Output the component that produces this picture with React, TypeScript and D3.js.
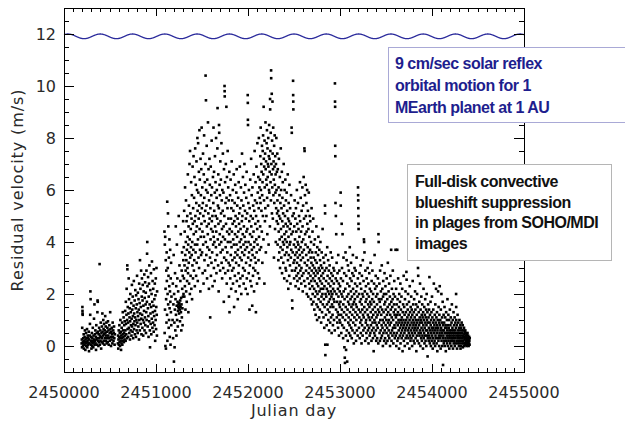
import React from "react";
import * as d3 from "d3";

const JD0 = 2450000;
const xTicks = [2450000, 2451000, 2452000, 2453000, 2454000, 2455000];
const yTicks = [0, 2, 4, 6, 8, 10, 12];
const xLabel = "Julian day";
const yLabel = "Residual velocity (m/s)";
const note1 = ["9 cm/sec solar reflex", "orbital motion for 1", "MEarth planet at 1 AU"];
const note2 = ["Full-disk convective", "blueshift suppression", "in plages from SOHO/MDI", "images"];

// reflex orbital motion: 9 cm/s amplitude around the 11.9 m/s level
const waveCenter = 11.91;
const waveAmp = 0.09;
const wavePeriod = 351;
const wavePhase = 43;

// [day - 2450000, residual velocity m/s]
const obsA: number[][] = [[192,0.1],[194,0.25],[196,-0.05],[198,0.7],[200,1.5],[201,1.35],[202,1.25],[203,1.2],[205,0.15],[207,0.0],[209,0.3],[211,0.1],[214,0.45],[216,-0.1],[219,0.2],[222,0.05],[224,0.35],[227,0.6],[229,0.15],[232,-0.15],[234,0.25],[237,0.1],[240,0.5],[242,0.0],[245,0.3],[248,0.15],[250,0.65],[253,-0.05],[256,0.2],[258,0.4],[261,0.05],[264,0.3],[266,0.1],[269,0.55],[272,-0.2],[274,0.25],[277,0.1],[280,0.4],[282,0.85],[285,1.2],[287,2.1],[289,1.8],[291,0.2],[293,0.05],[296,0.35],[298,-0.1],[301,0.15],[303,0.5],[306,0.0],[308,0.3],[311,0.1],[313,0.7],[316,0.2],[318,-0.05],[321,0.4],[323,0.15],[326,1.05],[328,0.25],[331,1.6],[333,0.05],[336,0.45],[338,0.2],[341,0.6],[343,0.1],[346,0.35],[348,-0.15],[351,0.8],[353,0.25],[356,0.5],[358,0.05],[361,0.3],[363,1.3],[365,1.75],[367,1.7],[369,0.55],[372,0.2],[374,0.0],[377,0.45],[379,0.15],[382,0.7],[384,0.3],[387,3.15],[389,0.05],[392,0.4],[394,0.6],[397,0.2],[399,0.9],[402,0.35],[404,-0.1],[407,0.5],[409,0.15],[412,0.75],[414,0.3],[417,1.25],[419,0.55],[422,0.1],[425,0.4],[427,1.0],[430,0.65],[432,0.2],[435,0.85],[437,0.45],[440,0.05],[443,0.6],[445,0.3],[448,1.15],[450,0.5],[453,0.75],[456,0.2],[458,0.4],[461,0.9],[464,0.1],[466,0.55],[469,0.3],[472,0.7],[475,0.15],[478,0.95],[481,0.4],[484,0.6],[487,0.05],[490,0.3],[493,0.8],[496,0.5],[499,0.2],[502,1.3],[505,0.65],[508,0.35],[511,0.0],[514,0.55],[517,0.25],[520,0.7],[523,0.45],[526,0.1],[529,0.9],[532,0.35],[535,0.6],[538,0.2],[541,0.5],[544,0.75],[547,0.3],[550,0.05],[553,0.45]];

const obsB: number[][] = [[586,0.1],[588,0.4],[590,-0.1],[592,0.25],[595,0.6],[597,0.05],[599,0.35],[602,0.8],[604,0.15],[606,0.5],[609,0.0],[611,0.3],[613,1.0],[616,0.2],[618,0.55],[620,-0.15],[623,0.4],[625,0.1],[627,0.7],[630,0.3],[632,0.9],[634,0.05],[637,0.45],[639,1.3],[641,0.2],[644,0.6],[646,0.35],[648,1.1],[651,0.15],[653,0.5],[655,0.8],[658,0.25],[660,0.95],[663,0.4],[665,1.35],[667,0.6],[670,0.2],[672,1.7],[674,0.85],[677,0.45],[679,1.2],[681,2.2],[684,0.3],[686,1.0],[688,3.1],[689,2.95],[691,0.65],[693,1.5],[696,0.9],[698,0.35],[700,1.25],[703,2.6],[705,0.7],[707,1.8],[710,0.5],[712,1.1],[714,1.45],[717,0.25],[719,0.95],[721,2.0],[724,0.6],[726,1.3],[728,0.8],[731,1.65],[733,0.4],[735,1.05],[738,2.35],[740,0.75],[742,1.4],[745,0.55],[747,1.9],[749,1.15],[752,0.3],[754,0.85],[756,1.55],[759,2.5],[761,0.65],[763,1.25],[766,0.95],[768,1.75],[770,0.45],[773,1.1],[775,2.15],[777,0.8],[780,1.45],[782,0.35],[784,1.95],[787,1.0],[789,0.6],[791,1.6],[794,2.7],[796,0.9],[798,1.3],[801,0.5],[803,2.05],[805,1.15],[808,0.75],[810,1.8],[812,1.4],[815,0.25],[817,2.4],[819,1.0],[822,1.65],[824,0.6],[826,3.3],[828,1.25],[831,2.2],[833,0.85],[835,1.5],[838,2.9],[840,1.05],[842,0.45],[845,1.9],[847,2.6],[849,1.2],[852,0.7],[854,1.75],[856,2.35],[859,1.0],[861,0.4],[863,1.55],[866,2.1],[868,0.9],[870,1.35],[873,2.75],[875,0.6],[877,1.85],[880,1.1],[882,2.45],[884,0.8],[887,1.6],[889,2.05],[891,0.5],[894,1.3],[896,2.9],[898,1.0],[901,1.7],[903,3.55],[905,4.0],[907,2.3],[910,0.75],[912,1.45],[914,2.65],[917,1.15],[919,0.35],[921,1.9],[924,2.4],[926,0.95],[928,3.1],[931,1.6],[933,0.6],[935,-0.05],[938,2.15],[940,1.25],[942,0.85],[945,2.8],[947,1.5],[949,0.45],[952,2.0],[954,1.05],[956,3.25],[959,1.7],[961,0.7],[963,2.5],[966,1.3],[968,0.9],[970,2.2],[973,1.55],[975,0.55],[977,2.95],[980,1.15],[982,1.8],[984,0.8],[987,2.4],[989,1.35],[991,0.2],[994,1.95],[996,1.0],[998,2.6],[1001,0.65],[1003,1.5],[1005,3.0],[1008,1.2],[1010,0.4],[1012,2.1]];

const obsC: number[][] = [[1092,4.4],[1094,0.5],[1096,3.9],[1098,1.4],[1100,4.2],[1102,0.0],[1104,2.2],[1106,3.3],[1108,-0.1],[1110,1.8],[1112,2.9],[1114,0.9],[1116,3.6],[1118,2.5],[1120,1.2],[1122,5.55],[1124,0.2],[1126,2.0],[1128,3.0],[1130,5.1],[1132,1.6],[1134,4.6],[1136,2.7],[1138,0.7],[1140,3.4],[1142,1.0],[1144,2.3],[1146,4.1],[1148,1.45],[1150,0.35],[1152,2.1],[1154,3.7],[1156,1.7],[1158,0.05],[1160,2.6],[1162,1.3],[1164,3.2],[1166,0.8],[1168,1.9],[1180,1.0],[1183,2.4],[1186,0.3],[1189,1.6],[1192,3.5],[1195,-0.6],[1197,2.0],[1200,0.9],[1202,-0.05],[1205,1.4],[1207,2.8],[1210,0.6],[1212,1.8],[1215,4.6],[1217,1.2],[1220,2.3],[1222,0.4],[1225,1.55],[1227,3.9],[1230,1.0],[1232,2.6],[1234,1.7],[1237,0.75],[1239,1.35],[1241,2.1],[1243,1.5],[1245,1.6],[1247,5.0],[1249,1.45],[1251,1.25],[1253,1.65],[1255,3.1],[1257,1.55],[1259,1.4],[1261,0.95],[1263,1.75],[1265,2.5],[1267,1.5],[1269,4.3],[1271,1.3],[1273,1.85],[1275,0.6],[1277,1.6],[1279,2.9],[1281,1.1],[1283,3.6],[1285,2.2],[1287,1.45],[1289,0.8],[1291,2.7],[1293,1.9],[1295,4.8],[1297,3.3],[1299,2.0]];

const obsD: number[][] = [[1302,3.8],[1304,2.6],[1306,5.2],[1308,1.9],[1310,3.1],[1312,4.4],[1314,2.3],[1316,6.1],[1318,3.5],[1320,1.4],[1322,2.9],[1324,4.0],[1326,5.6],[1328,2.1],[1330,3.3],[1332,4.8],[1334,1.7],[1336,3.7],[1338,2.5],[1340,5.0],[1342,3.0],[1344,4.2],[1346,6.6],[1348,2.8],[1350,3.9],[1352,1.3],[1354,4.6],[1356,3.2],[1358,5.4],[1360,2.4],[1362,3.6],[1364,7.0],[1366,4.1],[1368,2.0],[1370,7.5],[1372,3.4],[1374,5.1],[1376,2.7],[1378,4.5],[1380,3.8],[1382,6.3],[1384,2.2],[1386,4.9],[1388,3.5],[1390,5.8],[1392,1.8],[1394,4.0],[1396,3.1],[1398,6.9],[1400,4.7],[1402,2.6],[1404,5.3],[1406,3.7],[1408,7.3],[1410,4.3],[1412,2.9],[1414,5.7],[1416,3.3],[1418,6.5],[1420,4.8],[1422,2.3],[1424,3.9],[1426,7.6],[1428,5.0],[1430,3.6],[1432,6.2],[1434,4.4],[1436,2.7],[1438,5.5],[1440,7.1],[1442,3.2],[1444,4.6],[1446,6.0],[1448,3.9],[1450,8.0],[1452,5.2],[1454,2.5],[1456,4.1],[1458,7.8],[1460,5.9],[1462,3.4],[1464,4.9],[1466,6.7],[1468,3.0],[1470,5.4],[1472,8.3],[1474,4.5],[1476,6.4],[1478,3.7],[1480,5.1],[1482,2.1],[1484,7.2],[1486,4.2],[1488,5.8],[1490,3.5],[1492,6.8],[1494,4.7],[1496,8.4],[1498,5.3],[1501,3.6],[1503,6.1],[1505,4.4],[1507,2.8],[1509,5.5],[1511,7.4],[1513,3.9],[1515,5.0],[1517,2.4],[1519,6.6],[1521,4.2],[1523,8.1],[1525,5.7],[1527,3.3],[1529,4.8],[1531,6.3],[1533,2.9],[1535,5.2],[1537,7.0],[1539,10.4],[1541,4.0],[1543,9.45],[1545,6.0],[1547,3.5],[1549,5.4],[1551,7.7],[1553,4.6],[1555,2.6],[1557,6.4],[1559,3.8],[1561,5.9],[1563,4.3],[1565,8.6],[1567,3.1],[1569,5.1],[1571,6.8],[1573,4.7],[1575,2.2],[1577,5.6],[1579,3.7],[1581,7.2],[1583,4.9],[1585,6.2],[1587,3.4],[1589,1.1],[1591,5.3],[1593,4.1],[1595,6.9],[1597,2.7],[1599,4.5],[1601,5.8],[1603,3.2],[1605,7.9],[1607,4.8],[1609,6.1],[1611,3.6],[1613,5.0],[1615,2.3],[1617,4.4],[1619,6.5],[1621,3.9],[1623,5.5],[1625,8.4],[1627,4.2],[1629,3.0],[1631,6.7],[1633,5.2],[1635,4.0],[1637,2.5],[1639,5.9],[1641,7.3],[1643,4.6],[1645,3.3],[1647,6.3],[1649,5.0],[1651,3.8],[1653,8.0],[1655,4.4],[1657,2.8],[1659,5.7],[1661,6.0],[1663,3.5],[1665,4.9],[1667,7.6],[1669,9.15],[1671,4.1],[1673,5.4],[1675,3.1],[1677,6.6],[1679,4.7],[1681,2.1],[1683,5.3],[1685,8.5],[1687,8.2],[1689,3.9],[1691,6.2],[1693,4.3],[1695,5.8],[1697,2.9],[1699,7.1],[1701,4.8],[1703,3.6],[1705,6.4],[1707,5.1],[1709,4.0],[1711,7.8],[1713,3.2],[1715,5.6],[1717,4.5],[1719,2.6],[1721,6.0],[1723,3.7],[1725,5.2],[1727,7.4],[1729,4.2],[1731,3.0],[1733,5.9],[1735,4.6],[1737,1.7],[1739,6.8],[1741,3.4],[1743,5.0],[1745,10.0],[1746,9.8],[1747,9.6],[1749,4.1],[1751,6.3],[1753,2.8],[1755,5.5],[1757,3.8],[1759,7.0],[1761,4.7],[1763,3.3],[1765,9.2],[1767,5.7],[1769,2.4],[1771,6.5],[1773,4.4],[1775,3.6],[1777,5.3],[1779,7.5],[1781,4.0],[1783,2.9],[1785,6.1],[1787,4.9],[1789,3.2],[1791,5.6],[1793,1.9],[1795,4.3],[1797,6.7],[1799,1.3]];

const obsE: number[][] = [[1801,4.5],[1803,3.1],[1805,5.8],[1807,2.6],[1809,4.0],[1811,6.4],[1813,3.5],[1815,4.9],[1817,2.2],[1819,5.3],[1821,3.8],[1823,7.1],[1825,4.4],[1827,2.9],[1829,5.6],[1831,3.3],[1833,4.7],[1835,6.0],[1837,2.4],[1839,4.1],[1841,5.2],[1843,3.0],[1845,6.6],[1847,3.9],[1849,1.5],[1851,4.8],[1853,3.4],[1855,5.5],[1857,2.7],[1859,4.3],[1861,6.2],[1863,3.6],[1865,5.0],[1867,2.1],[1869,4.6],[1871,3.2],[1873,5.9],[1875,3.9],[1877,6.8],[1879,2.5],[1881,4.2],[1883,5.4],[1885,3.5],[1887,4.9],[1889,1.8],[1891,3.7],[1893,5.7],[1895,4.4],[1897,2.8],[1899,6.3],[1901,3.1],[1903,4.7],[1905,5.1],[1907,2.3],[1909,4.0],[1911,6.9],[1913,3.4],[1915,5.3],[1917,2.6],[1919,4.5],[1921,3.8],[1923,6.1],[1925,4.1],[1927,2.0],[1929,5.6],[1931,3.3],[1933,4.8],[1935,7.4],[1937,3.6],[1939,5.0],[1941,2.7],[1943,4.3],[1945,6.5],[1947,3.0],[1949,5.4],[1951,3.9],[1953,2.4],[1955,4.6],[1957,5.9],[1959,3.5],[1961,7.0],[1963,4.2],[1965,2.9],[1967,5.2],[1969,3.7],[1971,6.2],[1973,4.0],[1975,2.2],[1977,4.9],[1979,3.2],[1981,5.7],[1983,4.4],[1985,6.7],[1987,2.6],[1989,3.8],[1991,5.1],[1993,4.5],[1995,2.0],[1997,9.65],[1998,9.35],[1999,8.7],[2000,8.5],[2002,3.4],[2004,5.5],[2006,4.0],[2008,2.8],[2010,6.0],[2012,3.6],[2014,4.8],[2016,1.4],[2018,5.3],[2020,3.1],[2022,4.3],[2024,6.4],[2026,2.5],[2028,3.9],[2030,5.0],[2032,3.3],[2034,7.2],[2036,4.6],[2038,2.3],[2040,5.8],[2042,3.7],[2044,4.2],[2046,1.55],[2048,6.1],[2050,3.5],[2052,4.9],[2054,2.7],[2056,5.4],[2058,3.0],[2060,4.4],[2062,6.6],[2064,3.8],[2066,2.1],[2068,5.2],[2070,4.0],[2072,7.5],[2074,3.4],[2076,5.6],[2078,2.9],[2080,4.7],[2082,6.3],[2084,3.2],[2086,1.3],[2088,5.0],[2090,4.1],[2092,6.9],[2094,3.6],[2096,5.5],[2098,2.4],[2100,4.5],[2102,7.8],[2104,3.9],[2106,5.9],[2108,2.8],[2110,4.8],[2112,6.5],[2114,3.3],[2116,5.3],[2118,8.0],[2120,4.2],[2122,2.6],[2124,6.1],[2126,3.7],[2128,5.7],[2130,6.4],[2132,4.6],[2134,7.3],[2136,5.5],[2138,8.4],[2140,6.0],[2142,3.8],[2144,7.0],[2146,5.2],[2148,6.7],[2150,4.4],[2152,7.7],[2154,5.8],[2156,3.2],[2158,6.3],[2160,7.5],[2162,5.0],[2164,8.1],[2166,6.6],[2168,4.1],[2170,9.2],[2172,7.2],[2174,5.6],[2176,6.9],[2178,2.4],[2180,7.9],[2182,6.1],[2184,4.8],[2186,7.4],[2188,5.3],[2190,8.6],[2192,6.8],[2194,3.6],[2196,7.1],[2198,6.4],[2200,5.0],[2202,7.8],[2204,6.2],[2206,8.3],[2208,5.7],[2210,4.3],[2212,7.6],[2214,6.5],[2216,7.0],[2218,5.4],[2220,8.0],[2222,6.9],[2224,3.9],[2226,7.3],[2228,6.0],[2230,8.5],[2232,5.9],[2234,7.2],[2236,6.7],[2238,4.6],[2240,9.5],[2241,9.1],[2243,7.5],[2245,6.3],[2247,8.2],[2249,5.6],[2251,10.6],[2252,10.3],[2254,7.0],[2256,6.6],[2258,9.7],[2260,5.1],[2262,7.9],[2264,6.1],[2266,9.4],[2268,7.4],[2270,4.9],[2272,6.8],[2274,8.4],[2276,5.8],[2278,7.1],[2280,6.4],[2282,3.4],[2284,7.7],[2286,5.5],[2288,6.9],[2290,8.1],[2292,6.2],[2294,4.5],[2296,7.3],[2298,5.9],[2300,6.6],[2302,4.0],[2304,7.0],[2306,5.3],[2308,8.0],[2310,6.0],[2312,4.8],[2314,6.7],[2316,5.1],[2318,7.4]];

const obsF: number[][] = [[2320,5.6],[2322,3.9],[2324,6.8],[2326,4.7],[2328,5.2],[2330,3.3],[2332,6.1],[2334,4.4],[2336,7.2],[2338,5.0],[2340,3.6],[2342,5.8],[2344,4.1],[2346,6.5],[2348,3.0],[2350,4.9],[2352,5.5],[2354,3.8],[2356,7.6],[2358,4.5],[2360,6.0],[2362,3.4],[2364,5.3],[2366,4.2],[2368,6.7],[2370,2.8],[2372,4.8],[2374,5.7],[2376,3.7],[2378,6.3],[2380,4.0],[2382,5.1],[2384,3.2],[2386,4.6],[2388,7.0],[2390,3.9],[2392,5.4],[2394,2.6],[2396,4.3],[2398,6.0],[2400,3.5],[2402,5.0],[2404,4.1],[2406,6.4],[2408,3.0],[2410,4.7],[2412,5.6],[2414,2.9],[2416,4.4],[2418,3.6],[2420,5.9],[2422,4.0],[2424,2.5],[2426,5.2],[2428,3.8],[2430,4.6],[2432,6.6],[2434,3.3],[2436,4.9],[2438,2.2],[2440,4.2],[2442,5.5],[2444,3.5],[2446,4.8],[2448,2.7],[2450,6.2],[2452,3.9],[2454,4.5],[2456,3.1],[2458,5.3],[2460,4.0],[2462,2.4],[2464,4.7],[2466,3.4],[2468,5.8],[2470,3.7],[2472,4.3],[2474,8.4],[2476,8.2],[2478,2.9],[2480,1.75],[2482,1.45],[2484,5.0],[2486,3.6],[2488,4.4],[2490,10.2],[2491,9.65],[2492,9.4],[2493,9.1],[2495,3.2],[2497,5.1],[2499,3.9],[2501,2.6],[2503,4.6],[2505,3.3],[2507,5.6],[2509,2.9],[2511,4.1],[2513,3.5],[2515,4.9],[2517,2.3],[2519,3.8],[2521,5.3],[2523,3.0],[2525,4.4],[2527,2.7],[2529,3.6],[2531,6.0],[2533,3.2],[2535,4.7],[2537,2.5],[2539,4.0],[2541,3.4],[2543,5.5],[2545,2.8],[2547,3.9],[2549,4.5],[2551,2.2],[2553,3.7],[2555,5.0],[2557,3.1],[2559,4.2],[2561,2.6],[2563,3.5],[2565,6.3],[2567,4.8],[2569,2.9],[2571,3.8],[2573,5.7],[2575,3.3],[2577,4.4],[2579,2.4],[2581,3.0],[2583,5.2],[2585,4.0],[2587,2.7],[2589,3.6],[2591,6.1],[2593,4.6],[2595,2.1],[2597,3.4],[2599,5.4],[2601,4.1],[2603,2.8],[2605,6.5],[2607,3.7],[2609,4.9],[2611,2.5],[2613,7.6],[2615,7.5],[2617,3.2],[2619,5.8],[2621,4.3],[2623,2.3],[2625,3.9],[2627,6.2],[2629,5.0],[2631,2.9],[2633,3.5],[2635,5.5],[2637,4.4],[2639,2.0],[2641,3.1],[2643,6.0],[2645,4.7],[2647,2.6],[2649,3.8],[2651,5.2],[2653,3.3],[2655,1.9],[2657,4.5],[2659,2.8],[2661,5.9],[2663,3.6],[2665,2.4],[2667,4.2],[2669,3.0],[2671,5.0],[2673,2.2],[2675,3.7],[2677,4.8],[2679,2.7],[2681,3.4],[2683,1.8],[2685,4.0],[2687,2.5],[2689,3.2],[2691,5.3],[2693,2.9],[2695,1.6],[2697,3.6],[2699,2.3],[2701,4.4],[2703,2.0],[2705,3.1],[2707,2.6],[2709,4.9],[2711,1.7],[2713,3.4],[2715,2.8],[2717,3.9],[2719,2.2],[2721,1.4],[2723,3.0],[2725,2.5],[2727,4.1],[2729,1.9],[2731,3.3],[2733,2.7],[2735,1.2],[2737,3.6],[2739,2.1],[2741,2.9],[2743,4.6],[2745,1.6],[2747,3.2],[2749,2.4],[2751,1.0],[2753,3.8],[2755,2.0],[2757,2.8],[2759,1.5],[2761,3.5],[2763,2.3],[2765,4.2],[2767,1.8],[2769,3.0],[2771,2.6],[2773,1.1],[2775,3.7],[2777,2.1],[2779,2.9],[2781,1.4],[2783,3.3],[2785,2.5],[2787,4.0],[2789,1.7],[2791,2.2],[2793,3.1],[2795,0.9],[2797,2.7],[2799,1.9],[2801,3.6],[2803,2.4],[2805,1.3],[2807,3.0],[2809,2.0],[2811,4.5],[2813,1.6],[2815,2.8],[2817,2.2],[2819,3.4],[2821,1.1],[2823,2.6],[2825,1.8],[2827,3.2],[2829,0.7],[2831,2.3],[2833,1.5],[2835,2.9],[2837,5.4],[2838,5.1],[2840,0.05],[2841,-0.35],[2843,2.0],[2845,3.5],[2847,1.2],[2849,2.5],[2851,1.9],[2853,3.0],[2855,0.8],[2857,2.2],[2859,1.6],[2861,3.8],[2863,0.05],[2865,2.7],[2867,1.4],[2869,2.1],[2871,3.3],[2873,1.0],[2875,2.4],[2877,1.7],[2879,2.9],[2881,0.6],[2883,2.0],[2885,1.3],[2887,3.1],[2889,2.6],[2891,1.8],[2893,0.9],[2895,2.3],[2897,1.5],[2899,3.6],[2901,2.1],[2903,1.1],[2905,2.8],[2907,1.9],[2909,0.5],[2911,2.5],[2913,1.6],[2915,3.4],[2917,2.0],[2919,1.2],[2921,2.7],[2923,0.8],[2925,2.2],[2927,1.5],[2929,3.0],[2931,1.8],[2933,2.4],[2935,1.0],[2937,2.9],[2939,1.7],[2941,2.1],[2943,0.6],[2945,10.1],[2946,9.4],[2947,9.2],[2948,7.7],[2949,7.3],[2951,5.5],[2953,2.6],[2955,5.0],[2957,1.4],[2959,4.3],[2961,2.0],[2963,3.2],[2965,1.1],[2967,2.5],[2969,1.7],[2971,0.9],[2973,2.8],[2975,1.3],[2977,2.2],[2979,0.7],[2981,3.5],[2983,1.9],[2985,1.2],[2987,2.4],[2989,0.4],[2991,1.6],[2993,2.9],[2995,1.0],[2997,2.1],[2999,1.5]];

const obsG: number[][] = [[3001,2.3],[3003,0.9],[3005,1.7],[3007,5.9],[3008,5.4],[3010,2.6],[3012,1.2],[3014,0.5],[3016,2.0],[3018,4.7],[3020,1.4],[3022,3.0],[3024,0.8],[3026,1.9],[3028,4.3],[3030,1.1],[3032,2.5],[3034,0.3],[3036,1.6],[3038,3.4],[3040,2.1],[3042,0.7],[3044,1.3],[3046,2.8],[3048,-0.05],[3050,1.8],[3052,-0.45],[3054,-0.65],[3056,1.0],[3058,2.2],[3060,3.6],[3062,1.5],[3064,0.4],[3066,-0.15],[3068,2.7],[3070,1.2],[3072,3.3],[3074,0.6],[3076,1.9],[3078,-0.6],[3080,2.4],[3082,1.4],[3084,0.2],[3086,3.1],[3088,1.7],[3090,0.9],[3092,2.0],[3094,1.1],[3096,2.9],[3098,0.5],[3100,1.6],[3102,2.3],[3104,0.8],[3106,3.8],[3108,1.3],[3110,2.6],[3112,0.4],[3114,1.8],[3116,1.0],[3118,2.1],[3120,3.2],[3122,0.7],[3124,1.5],[3126,2.5],[3128,0.3],[3130,1.9],[3132,1.2],[3134,2.8],[3136,0.6],[3138,1.6],[3140,3.5],[3142,2.2],[3144,0.9],[3146,1.4],[3148,2.7],[3150,0.1],[3152,1.7],[3154,2.0],[3156,1.1],[3158,3.0],[3160,0.5],[3162,1.8],[3164,2.4],[3166,0.8],[3168,1.3],[3170,2.9],[3172,1.6],[3174,0.2],[3176,2.1],[3178,1.0],[3180,3.4],[3182,1.5],[3184,0.6],[3186,2.3],[3188,1.2],[3190,1.9],[3192,0.4],[3194,2.6],[3196,6.1],[3197,5.8],[3198,5.6],[3199,5.3],[3200,5.0],[3201,4.7],[3202,4.5],[3204,1.4],[3206,0.7],[3208,2.0],[3210,1.1],[3212,2.8],[3214,0.3],[3216,1.7],[3218,2.4],[3220,0.9],[3222,1.3],[3224,3.1],[3226,0.5],[3228,1.8],[3230,2.2],[3232,1.0],[3234,0.1],[3236,1.6],[3238,2.7],[3240,0.8],[3242,1.4],[3244,2.0],[3246,0.4],[3248,3.3],[3250,1.2],[3252,1.9],[3254,0.6],[3256,2.5],[3258,1.1],[3260,4.1],[3262,4.0],[3264,1.5],[3266,3.6],[3268,0.7],[3270,2.1],[3272,1.3],[3274,0.2],[3276,2.9],[3278,1.7],[3280,0.9],[3282,2.3],[3284,1.0],[3286,0.5],[3288,1.8],[3290,2.6],[3292,0.3],[3294,1.4],[3296,2.0],[3298,0.8],[3300,3.0],[3302,1.2],[3304,0.6],[3306,1.6],[3308,2.4],[3310,0.1],[3312,1.1],[3314,1.9],[3316,0.7],[3318,2.8],[3320,1.5],[3322,0.4],[3324,2.2],[3326,1.0],[3328,1.7],[3330,0.5],[3332,3.2],[3334,1.3],[3336,0.8],[3338,2.1],[3340,1.6],[3342,0.2],[3344,2.5],[3346,1.1],[3348,0.6],[3350,1.8],[3352,2.9],[3354,0.9],[3356,1.4],[3358,0.3],[3360,2.0],[3362,1.2],[3364,0.7],[3366,-0.2],[3368,1.7],[3370,2.4],[3372,0.5],[3374,1.0],[3376,3.5],[3378,1.5],[3380,0.4],[3382,2.2],[3384,0.9],[3386,1.3],[3388,2.7],[3390,0.6],[3392,1.9],[3394,0.2],[3396,1.1],[3398,2.3],[3400,0.8],[3402,1.6],[3404,0.3],[3406,2.0],[3408,1.2],[3410,0.7],[3412,2.6],[3414,1.4],[3416,0.1],[3418,4.3],[3420,4.0],[3422,1.8],[3424,0.9],[3426,1.3],[3428,2.4],[3430,0.5],[3432,1.7],[3434,0.2],[3436,2.9],[3438,1.0],[3440,1.5],[3442,0.6],[3444,2.1],[3446,0.3],[3448,1.2],[3450,1.8],[3452,0.8],[3454,3.1],[3456,0.4],[3458,1.4],[3460,2.2],[3462,0.7],[3464,1.0],[3466,0.0],[3468,1.9],[3470,2.5],[3472,0.5],[3474,1.3],[3476,0.9],[3478,2.0],[3480,0.2],[3482,1.6],[3484,2.8],[3486,0.6],[3488,1.1],[3490,0.3],[3492,1.7],[3494,2.3],[3496,0.8],[3498,1.4],[3500,0.1],[3502,2.0],[3504,1.0],[3506,0.5],[3508,2.6],[3510,1.2],[3512,0.7],[3514,1.8],[3516,0.2],[3518,1.5],[3520,3.2],[3522,0.9],[3524,1.3],[3526,0.4],[3528,2.1],[3530,0.6],[3532,1.0],[3534,2.4],[3536,0.3],[3538,1.6],[3540,0.8],[3542,1.9],[3544,0.0],[3546,1.2],[3548,2.7],[3550,0.5],[3552,1.4],[3554,0.9],[3556,3.7],[3558,1.7],[3560,0.2],[3562,1.1],[3564,2.2],[3566,0.6],[3568,1.5],[3570,0.4],[3572,1.8],[3574,2.9],[3576,0.7],[3578,1.0],[3580,0.1],[3582,2.0],[3584,1.3],[3586,0.5],[3588,1.6],[3590,2.5],[3592,0.8],[3594,1.2],[3596,0.3],[3598,1.9]];

const obsH: number[][] = [[3600,0.7],[3602,1.4],[3604,3.7],[3606,0.4],[3608,1.1],[3610,2.2],[3612,0.0],[3614,0.9],[3616,1.6],[3618,0.5],[3620,1.2],[3622,3.7],[3624,0.2],[3626,1.8],[3628,0.8],[3630,1.3],[3632,2.6],[3634,0.3],[3636,1.0],[3638,0.6],[3640,1.5],[3642,-0.1],[3644,2.0],[3646,0.9],[3648,1.2],[3650,0.4],[3652,1.7],[3654,0.7],[3656,2.4],[3658,0.1],[3660,1.0],[3662,1.4],[3664,0.5],[3666,0.8],[3668,1.9],[3670,0.3],[3672,1.1],[3674,0.6],[3676,2.2],[3678,0.9],[3680,-0.2],[3682,1.3],[3684,0.4],[3686,1.6],[3688,0.7],[3690,1.0],[3692,2.7],[3694,0.2],[3696,0.8],[3698,1.5],[3700,0.5],[3702,1.2],[3704,0.0],[3706,1.8],[3708,0.6],[3710,0.9],[3712,2.1],[3714,0.3],[3716,1.3],[3718,0.7],[3720,1.0],[3722,2.85],[3724,2.55],[3726,0.4],[3728,1.6],[3730,0.8],[3732,1.1],[3734,0.1],[3736,1.4],[3738,0.6],[3740,2.0],[3742,0.9],[3744,0.3],[3746,1.2],[3748,0.5],[3750,1.7],[3752,0.7],[3754,-0.1],[3756,1.0],[3758,2.3],[3760,0.4],[3762,1.3],[3764,0.8],[3766,0.2],[3768,1.5],[3770,0.6],[3772,1.1],[3774,1.9],[3776,0.3],[3778,0.9],[3780,1.4],[3782,0.5],[3784,0.0],[3786,1.2],[3788,0.7],[3790,2.5],[3792,1.0],[3794,0.4],[3796,1.6],[3798,0.8],[3800,0.2],[3802,1.3],[3804,0.6],[3806,1.8],[3808,0.9],[3810,0.1],[3812,1.1],[3814,0.5],[3816,2.1],[3818,0.7],[3820,1.4],[3822,0.3],[3824,1.0],[3826,0.8],[3828,1.6],[3830,-0.2],[3832,0.6],[3834,1.2],[3836,0.4],[3838,2.0],[3840,0.9],[3842,0.2],[3844,1.5],[3846,0.7],[3848,3.0],[3850,2.7],[3852,1.0],[3854,0.5],[3856,1.3],[3858,0.1],[3860,0.8],[3862,1.7],[3864,0.4],[3866,1.1],[3868,0.6],[3870,2.4],[3872,0.9],[3874,0.0],[3876,1.4],[3878,0.5],[3880,1.0],[3882,0.3],[3884,1.9],[3886,0.7],[3888,1.2],[3890,0.2],[3892,0.9],[3894,1.6],[3896,0.4],[3898,1.1],[3900,0.6],[3902,-0.1],[3904,1.3],[3906,0.8],[3908,2.2],[3910,0.3],[3912,1.0],[3914,0.5],[3916,1.5],[3918,0.1],[3920,0.7],[3922,1.2],[3924,0.4],[3926,1.8],[3928,0.9],[3930,0.2],[3932,1.1],[3934,0.6],[3936,1.4],[3938,0.0],[3940,0.8],[3942,2.0],[3944,0.4],[3946,1.0],[3948,0.6],[3950,1.3],[3952,-0.4],[3954,0.3],[3956,0.9],[3958,1.6],[3960,0.5],[3962,1.1],[3964,0.2],[3966,0.7],[3968,1.4],[3970,0.4],[3972,2.65],[3974,0.9],[3976,0.1],[3978,1.2],[3980,0.6],[3982,0.3],[3984,1.7],[3986,0.8],[3988,0.0],[3990,1.0],[3992,0.5],[3994,1.3],[3996,0.2],[3998,0.7],[4000,1.9],[4002,0.4],[4004,1.1],[4006,0.6],[4008,-0.1],[4010,0.9],[4012,0.3],[4014,1.4],[4016,0.7],[4018,0.1],[4020,2.4],[4022,0.5],[4024,1.0],[4026,0.8],[4028,0.2],[4030,1.2],[4032,0.6],[4034,0.0],[4036,1.6],[4038,0.4],[4040,0.9],[4042,0.3],[4044,2.2],[4046,0.7],[4048,1.1],[4050,0.1],[4052,0.5],[4054,1.3],[4056,0.8],[4058,-0.2],[4060,0.6],[4062,1.0],[4064,0.3],[4066,2.1],[4068,0.7],[4070,0.2],[4072,1.5],[4074,0.4],[4076,0.9],[4078,0.0],[4080,1.2],[4082,0.5],[4084,2.3],[4086,0.8],[4088,0.3],[4090,1.0],[4092,0.6],[4094,-0.1],[4096,1.4],[4098,0.4],[4100,0.7],[4102,2.0],[4104,0.2],[4106,0.9],[4108,0.5],[4110,1.1],[4112,0.0],[4114,0.6],[4116,1.7],[4118,0.3],[4120,-0.73],[4122,0.8],[4124,0.4],[4126,1.2],[4128,0.1],[4130,0.6],[4132,0.9],[4134,0.2],[4136,1.5],[4138,0.5],[4140,0.0],[4142,0.7],[4144,1.1],[4146,0.3],[4148,0.8],[4150,-0.2],[4152,0.5],[4154,1.3],[4156,0.2],[4158,0.7],[4160,0.4],[4162,1.0],[4164,0.1],[4166,0.6],[4168,1.8],[4170,0.3],[4172,0.8],[4174,0.0],[4176,0.5],[4178,1.2],[4180,0.2],[4182,0.7],[4184,0.4],[4186,1.0],[4188,-0.1],[4190,0.6],[4192,0.3],[4194,1.4],[4196,0.5],[4198,0.1],[4200,0.8],[4202,0.4],[4204,1.1],[4206,0.2],[4208,0.6],[4210,0.0],[4212,0.9],[4214,0.3],[4216,1.6],[4218,0.5],[4220,0.2],[4222,0.7],[4224,0.4],[4226,1.0],[4228,-0.1],[4230,0.6],[4232,0.3],[4234,1.3],[4236,0.1],[4238,0.5],[4240,0.8],[4242,0.2],[4244,0.4],[4246,1.1],[4248,0.0],[4250,0.6],[4252,0.3],[4254,0.9],[4256,0.5],[4258,0.1],[4260,0.7],[4262,2.0],[4263,1.5],[4264,1.0],[4266,0.4],[4268,0.2],[4270,0.8],[4272,-0.1],[4274,0.5],[4276,0.3],[4278,1.2],[4280,0.6],[4282,0.1],[4284,0.4],[4286,0.9],[4288,0.2],[4290,0.5],[4292,0.0],[4294,0.7],[4296,0.3],[4298,1.0],[4300,0.4],[4302,0.1],[4304,0.6],[4306,0.2],[4308,0.8],[4310,-0.1],[4312,0.5],[4314,0.3],[4316,0.7],[4318,0.0],[4320,0.4],[4322,0.9],[4324,0.2],[4326,0.6],[4328,0.1],[4330,0.5],[4332,0.3],[4334,0.8],[4336,-0.05],[4338,0.4],[4340,0.2],[4342,0.6],[4344,0.1],[4346,0.35],[4348,0.7],[4350,0.0],[4352,0.45],[4354,0.25],[4356,0.55],[4358,0.1],[4360,0.3],[4362,0.6],[4364,0.05],[4366,0.4],[4368,0.2],[4370,0.5],[4372,0.15],[4374,0.35],[4376,0.0],[4378,0.45],[4380,0.25],[4382,0.1],[4384,0.3],[4386,0.5],[4388,0.05],[4390,0.2],[4392,0.4],[4394,0.15],[4396,0.3],[4398,0.0],[4400,0.25],[4402,0.1],[4404,0.35],[4406,0.2],[4408,0.05],[4410,0.3]];

const W = 625, H = 422;
const M = { left: 64, right: 524, top: 8, bottom: 372 };
const axisFont = "'DejaVu Sans', sans-serif";
const noteFont = "'Liberation Sans', Arial, sans-serif";

export default function App() {
  const x = d3.scaleLinear().domain([2450000, 2455000]).range([M.left, M.right]);
  const y = d3.scaleLinear().domain([-1, 13]).range([M.bottom, M.top]);
  const points = [...obsA, ...obsB, ...obsC, ...obsD, ...obsE, ...obsF, ...obsG, ...obsH];
  const xMinor = d3.range(2450000, 2455001, 100);
  const yMinor = d3.range(-1, 13.001, 0.5);
  const waveDays = d3.range(JD0, JD0 + 5001, 4);
  const wave = d3.line<number>()
    .x((d) => x(d))
    .y((d) => y(waveCenter + waveAmp * Math.cos((2 * Math.PI * (d - JD0 - wavePhase)) / wavePeriod)))
    .curve(d3.curveBasis);
  const ms = 2.6;
  return (
    <svg width={W} height={H} style={{ position: "absolute", left: 0, top: 0, background: "#fff" }}>
      <rect x={0} y={0} width={W} height={H} fill="#fff" />
      <g fill="#000">
        {points.map((p, i) => (
          <rect key={i} x={x(JD0 + p[0]) - ms / 2} y={y(p[1]) - ms / 2} width={ms} height={ms} />
        ))}
      </g>
      <path d={wave(waveDays) || ""} fill="none" stroke="#2b2b9c" strokeWidth={1.3} />
      <g stroke="#000" strokeWidth={1} shapeRendering="crispEdges">
        <rect x={M.left} y={M.top} width={M.right - M.left} height={M.bottom - M.top} fill="none" />
        {xMinor.map((t) => {
          const major = (t - 2450000) % 1000 === 0;
          const len = major ? 8 : 4;
          return (
            <g key={"xt" + t}>
              <line x1={x(t)} x2={x(t)} y1={M.bottom} y2={M.bottom - len} />
              <line x1={x(t)} x2={x(t)} y1={M.top} y2={M.top + len} />
            </g>
          );
        })}
        {yMinor.map((t) => {
          const major = Math.abs(t % 2) < 1e-6;
          const len = major ? 10 : 5;
          return (
            <g key={"yt" + t}>
              <line x1={M.left} x2={M.left + len} y1={y(t)} y2={y(t)} />
              <line x1={M.right} x2={M.right - len} y1={y(t)} y2={y(t)} />
            </g>
          );
        })}
      </g>
      <g fontFamily={axisFont} fontSize={16} fill="#2a2a2a">
        {xTicks.map((t) => (
          <text key={"xl" + t} x={x(t)} y={398} textAnchor="middle">{t}</text>
        ))}
        {yTicks.map((t) => (
          <text key={"yl" + t} x={56} y={y(t)} dy="0.36em" textAnchor="end">{t}</text>
        ))}
        <text x={(M.left + M.right) / 2} y={416} textAnchor="middle" letterSpacing={0.8}>{xLabel}</text>
        <text transform={`translate(23,${(M.top + M.bottom) / 2}) rotate(-90)`} textAnchor="middle" letterSpacing={0.9}>{yLabel}</text>
      </g>
      <g>
        <rect x={388.5} y={47.5} width={240} height={75} fill="#fff" stroke="#a9a9d6" strokeWidth={1} />
        {note1.map((s, i) => (
          <text key={"n1" + i} x={395} y={69 + i * 22} fontFamily={noteFont} fontSize={16} fontWeight="bold" letterSpacing={-0.5} fill="#1e1e8e">{s}</text>
        ))}
        <rect x={407.5} y={164.5} width={204} height={96} fill="#fff" stroke="#b5b5b5" strokeWidth={1} />
        {note2.map((s, i) => (
          <text key={"n2" + i} x={415} y={187 + i * 20.5} fontFamily={noteFont} fontSize={16} fontWeight="bold" letterSpacing={-0.5} fill="#111">{s}</text>
        ))}
      </g>
    </svg>
  );
}
